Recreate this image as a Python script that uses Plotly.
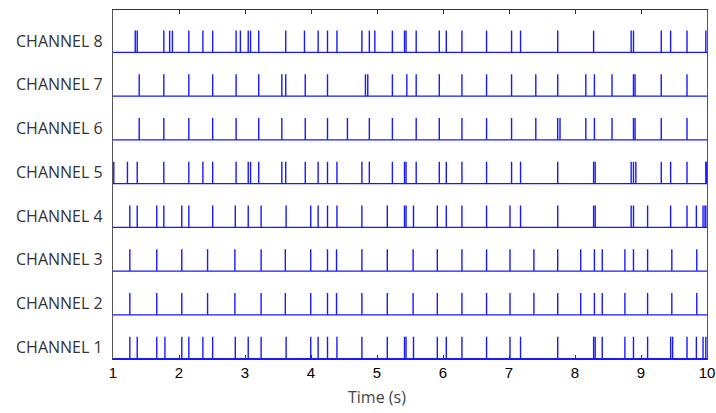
import plotly.graph_objects as go

# Spike times (s) per channel
channel_names = ["CHANNEL 1", "CHANNEL 2", "CHANNEL 3", "CHANNEL 4",
                 "CHANNEL 5", "CHANNEL 6", "CHANNEL 7", "CHANNEL 8"]

ch1 = [1.255, 1.367, 1.663, 1.787, 2.042, 2.149, 2.362, 2.510, 2.853, 3.049,
       3.244, 3.623, 3.996, 4.108, 4.250, 4.393, 4.771, 5.156, 5.417, 5.440,
       5.553, 5.914, 6.050, 6.287, 6.660, 7.015, 7.175, 7.738, 8.282, 8.306,
       8.413, 8.756, 8.886, 9.100, 9.449, 9.479, 9.697, 9.839, 9.940, 9.982]
ch2 = [1.255, 1.663, 2.042, 2.433, 2.847, 3.244, 3.611, 3.996, 4.250, 4.387,
       4.771, 5.156, 5.547, 5.914, 6.287, 6.660, 7.015, 7.377, 7.738, 8.087,
       8.294, 8.413, 8.756, 9.100, 9.467, 9.845]
ch3 = [1.255, 1.663, 2.042, 2.433, 2.847, 3.244, 3.611, 3.996, 4.250, 4.387,
       4.771, 5.156, 5.547, 5.914, 6.287, 6.660, 7.015, 7.377, 7.738, 8.087,
       8.294, 8.413, 8.756, 8.886, 9.100, 9.467, 9.845]
ch4 = [1.255, 1.367, 1.663, 1.770, 2.042, 2.149, 2.510, 2.853, 3.049, 3.244,
       3.623, 3.996, 4.108, 4.250, 4.393, 4.771, 5.156, 5.417, 5.440, 5.553,
       5.914, 6.050, 6.287, 6.660, 7.015, 7.175, 7.738, 8.282, 8.306, 8.851,
       8.886, 9.100, 9.449, 9.697, 9.839, 9.940, 9.970, 9.982]
ch5 = [1.012, 1.219, 1.367, 1.770, 2.149, 2.362, 2.510, 2.865, 3.049, 3.084,
       3.208, 3.558, 3.617, 3.913, 4.108, 4.250, 4.393, 4.771, 4.884, 5.233,
       5.417, 5.440, 5.594, 5.944, 6.050, 6.287, 6.660, 7.039, 7.175, 7.738,
       8.282, 8.306, 8.851, 8.886, 8.922, 9.307, 9.449, 9.697, 9.982, 9.995]
ch6 = [1.397, 1.770, 2.149, 2.510, 2.865, 3.208, 3.558, 3.913, 4.250, 4.552,
       4.884, 5.233, 5.594, 5.944, 6.287, 6.660, 7.039, 7.406, 7.738, 7.773,
       8.164, 8.294, 8.561, 8.886, 8.910, 9.307, 9.697]
ch7 = [1.397, 1.770, 2.149, 2.510, 2.865, 3.208, 3.558, 3.617, 3.913, 4.250,
       4.825, 4.860, 5.233, 5.452, 5.594, 5.944, 6.287, 6.660, 7.039, 7.406,
       7.738, 8.164, 8.294, 8.561, 8.886, 8.910, 9.307, 9.697]
ch8 = [1.337, 1.367, 1.770, 1.858, 1.900, 2.149, 2.362, 2.510, 2.865, 2.930,
       3.049, 3.084, 3.208, 3.617, 3.901, 4.108, 4.250, 4.393, 4.771, 4.884,
       4.967, 5.233, 5.417, 5.440, 5.594, 5.944, 6.050, 6.287, 6.660, 7.039,
       7.175, 7.738, 8.282, 8.851, 8.886, 9.307, 9.449, 9.697, 9.982]

channels = [ch1, ch2, ch3, ch4, ch5, ch6, ch7, ch8]
x_ticks = [1, 2, 3, 4, 5, 6, 7, 8, 9, 10]
t_start, t_end = 1, 10

SPIKE_H = 0.5
BLUE = "rgb(25,25,255)"

fig = go.Figure()

for i, spikes in enumerate(channels):
    base = i
    # baseline of the channel
    fig.add_trace(go.Scatter(x=[t_start, t_end], y=[base, base], mode="lines",
                             line=dict(color=BLUE, width=1.3),
                             hoverinfo="skip", showlegend=False))
    xs, ys = [], []
    for t in spikes:
        xs += [t, t, None]
        ys += [base, base + SPIKE_H, None]
    fig.add_trace(go.Scatter(x=xs, y=ys, mode="lines",
                             line=dict(color=BLUE, width=1.4),
                             name=channel_names[i], showlegend=False))
    fig.add_annotation(text=channel_names[i], xref="paper", yref="y",
                       x=-0.1667, y=base + 0.27, xanchor="left", yanchor="middle",
                       showarrow=False,
                       font=dict(family="Open Sans", size=16, color="#333333"))

fig.add_annotation(text="Time (s)", xref="paper", yref="paper",
                   x=0.445, y=-0.109, xanchor="center", yanchor="middle",
                   showarrow=False,
                   font=dict(family="Open Sans", size=16, color="#444444"))

fig.update_layout(
    width=716, height=413,
    margin=dict(l=113, r=9, t=10, b=54, autoexpand=False),
    paper_bgcolor="white", plot_bgcolor="white",
    xaxis=dict(range=[t_start, t_end], tickvals=x_ticks, ticks="inside",
               ticklen=4, tickcolor="#333333", showline=True, linecolor="#333333",
               linewidth=1, mirror="ticks", showgrid=False, zeroline=False,
               automargin=False,
               tickfont=dict(family="Liberation Sans", size=15, color="black")),
    yaxis=dict(range=[-0.01, 7.97], showticklabels=False, ticks="",
               showline=True, linecolor="#555555", linewidth=1, mirror=True,
               showgrid=False, zeroline=False, automargin=False),
)

fig.write_html("out.html")
